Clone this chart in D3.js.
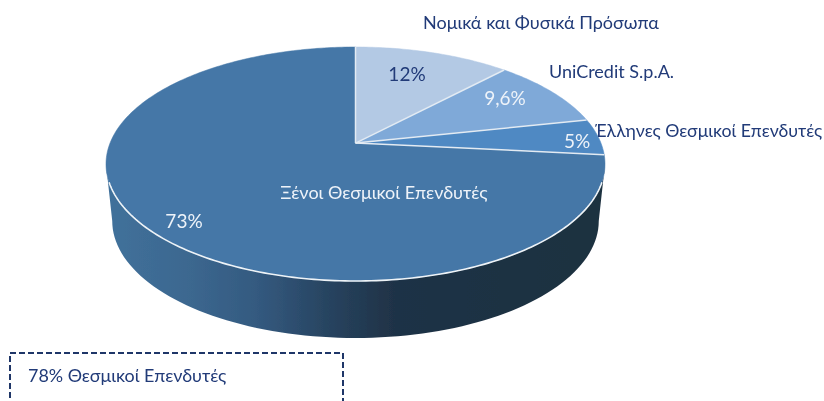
<!DOCTYPE html>
<html><head><meta charset="utf-8">
<script src="https://cdnjs.cloudflare.com/ajax/libs/d3/7.8.5/d3.min.js"></script>
<style>html,body{margin:0;padding:0;background:#fff;overflow:hidden}svg{display:block}text{font-family:Lato,"Open Sans","Noto Sans",sans-serif}</style>
</head><body><svg id="c" width="824" height="401"></svg>
<script>
const categories = ["Νομικά και Φυσικά Πρόσωπα","UniCredit S.p.A.","Έλληνες Θεσμικοί Επενδυτές","Ξένοι Θεσμικοί Επενδυτές"];
const values = [12, 9.6, 5, 73.4];
const valueLabels = ["12%","9,6%","5%","73%"];
const colors = ["#b3c9e4","#7fa9d8","#5089c3","#4477a7"];
const boxLabel = "78% Θεσμικοί Επενδυτές";

const svg = d3.select("#c");
const cx=355.5, cy=164, rx=249.5, ry=117, k=-0.179, depth=57, shrink=0.975;
const sx=d3.scaleLinear().domain([-1,1]).range([cx-rx,cx+rx]);
const sy=d3.scaleLinear().domain([-1,1]).range([cy-ry,cy+ry]);
function proj(a,r=1){ // pie angle, 0 at top, clockwise, seen in perspective
  const u=r*Math.sin(a), v=-r*Math.cos(a), d=1+k*v;
  return [sx(Math.sqrt(1-k*k)*u/d), sy((v+k)/d)];
}
const pie=d3.pie().sort(null).value(d=>d);
const arcs=pie(values);
const line=d3.line();
function slicePath(d){
  const n=Math.max(4,Math.ceil((d.endAngle-d.startAngle)*60));
  const pts=[proj(0,0)];
  for(let i=0;i<=n;i++) pts.push(proj(d.startAngle+(d.endAngle-d.startAngle)*i/n));
  return line(pts)+"Z";
}
const defs=svg.append("defs");
defs.append("filter").attr("id","soft").append("feGaussianBlur").attr("stdDeviation",0.35);
const grad=defs.append("linearGradient").attr("id","wall").attr("gradientUnits","userSpaceOnUse")
  .attr("x1",sx(-1)).attr("x2",sx(1)).attr("y1",0).attr("y2",0);
[[0,"#41719b"],[0.16,"#3c6890"],[0.3,"#345a80"],[0.45,"#27435f"],[0.58,"#1f3246"],[1,"#1d3040"]]
  .forEach(s=>grad.append("stop").attr("offset",s[0]).attr("stop-color",s[1]));
// side wall: hull of the top rim and the slightly narrower lower rim
const wallPts=[];
const botX=d3.scaleLinear().domain([-1,1]).range([cx-rx*shrink,cx+rx*shrink]);
const angles=d3.range(0,181,2).map(t=>t*Math.PI/180);
angles.forEach(t=>wallPts.push([sx(Math.cos(t)),sy(Math.sin(t))]));
[...angles].reverse().forEach(t=>wallPts.push([botX(Math.cos(t)),sy(Math.sin(t))+depth]));
svg.append("path").attr("d",line(wallPts)+"Z").attr("fill","url(#wall)").attr("filter","url(#soft)");

svg.append("g").attr("filter","url(#soft)").selectAll("path").data(arcs).join("path")
  .attr("d",slicePath).attr("fill",(d,i)=>colors[i]).attr("stroke",(d,i)=>colors[i]).attr("stroke-width",0.5);
// separators between slices
svg.append("g").attr("filter","url(#soft)").selectAll("path").data(arcs).join("path")
  .attr("d",d=>line([proj(0,0),proj(d.startAngle)]))
  .attr("fill","none").attr("stroke","#e3ebf3").attr("stroke-width",1.5);
// light front rim
const rimAngles=d3.range(109,252,1).map(t=>t*Math.PI/180);
svg.append("path").attr("d",line(rimAngles.map(a=>proj(a)))).attr("fill","none")
  .attr("stroke","#eef3f7").attr("stroke-width",1.6).attr("filter","url(#soft)");

const labels=svg.append("g").attr("filter","url(#soft)");
const tx=(s,x,y,fill,size=18,anchor="start")=>labels.append("text").text(s).attr("x",x).attr("y",y)
  .attr("fill",fill).attr("font-size",size).attr("text-anchor",anchor);
const navy="#203a78", pale="#eef3f9";
tx(categories[0],423,29,navy);
tx(categories[1],549,78,navy);
tx(categories[2],595,137,navy,17.7);
tx(categories[3],384,199,pale,18,"middle");
tx(valueLabels[0],407,81,navy,19,"middle");
tx(valueLabels[1],505,105,pale,19,"middle");
tx(valueLabels[2],577,148,pale,19,"middle");
tx(valueLabels[3],184,228,pale,19,"middle");
svg.append("rect").attr("x",10).attr("y",353).attr("width",333).attr("height",90)
  .attr("fill","none").attr("stroke","#1f3668").attr("stroke-width",2).attr("stroke-dasharray","6 3");
tx(boxLabel,28,382,navy,17.9);
</script></body></html>
